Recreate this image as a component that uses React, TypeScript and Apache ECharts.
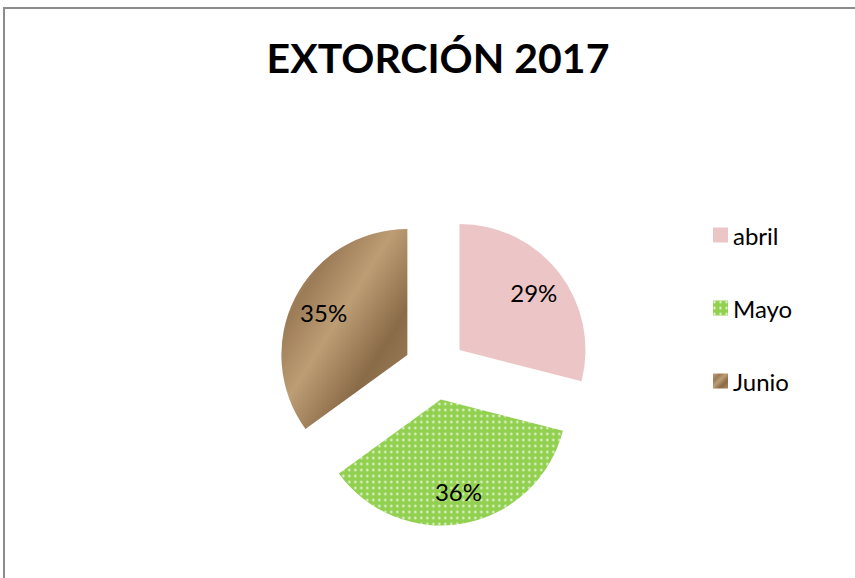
import React, { useEffect, useRef } from "react";
import * as echarts from "echarts";

const titleText = "EXTORCIÓN 2017";
const months = ["abril", "Mayo", "Junio"];
const shares = [29, 36, 35];
const colors = ["#ecc6c6", "#92d050", "#ad8c64"];

export default function App() {
  const ref = useRef<HTMLDivElement>(null);
  useEffect(() => {
    if (!ref.current) return;
    const chart = echarts.init(ref.current, null, { renderer: "svg" });
    const juniFill = new echarts.graphic.LinearGradient(0, 0, 1, 1, [
      { offset: 0, color: "#c2a27a" },
      { offset: 0.25, color: "#9c7c57" },
      { offset: 0.45, color: "#bd9d74" },
      { offset: 0.7, color: "#8a6b48" },
      { offset: 1, color: "#a68660" },
    ]);
    const fills: any[] = [colors[0], colors[1], juniFill];
    const center = [435, 369];
    chart.setOption({
      animation: false,
      backgroundColor: "#ffffff",
      title: {
        text: titleText,
        left: 433,
        textAlign: "center",
        top: 32,
        textStyle: { fontFamily: "Lato", fontWeight: "bold", fontSize: 41, color: "#000" },
      },
      legend: {
        orient: "vertical",
        left: 713,
        top: 223,
        padding: 0,
        icon: "rect",
        itemWidth: 15,
        itemHeight: 15,
        itemGap: 49,
        selectedMode: false,
        data: months,
        textStyle: { fontFamily: "Lato", fontSize: 24, color: "#000", lineHeight: 23 },
      },
      graphic: [
        {
          type: "rect",
          shape: { x: 4, y: 8, width: 900, height: 620 },
          style: { fill: "none", stroke: "#8c8c8c", lineWidth: 2 },
          silent: true,
        },
      ],
      series: [
        {
          type: "pie",
          center,
          radius: 126,
          startAngle: 90,
          clockwise: true,
          selectedMode: "multiple",
          selectedOffset: 31,
          label: { show: false },
          labelLine: { show: false },
          emphasis: { disabled: true },
          data: months.map((m, i) => ({
            name: m,
            value: shares[i],
            selected: true,
            itemStyle: {
              color: fills[i],
              decal:
                i === 1
                  ? {
                      symbol: "circle",
                      symbolSize: 0.85,
                      color: "rgba(255,255,255,0.8)",
                      dashArrayX: [3, 3],
                      dashArrayY: [3, 3],
                    }
                  : undefined,
            },
          })),
        },
        {
          type: "pie",
          center,
          radius: [56, 126],
          startAngle: 90,
          clockwise: true,
          selectedMode: "multiple",
          selectedOffset: 31,
          silent: true,
          legendHoverLink: false,
          itemStyle: { color: "transparent" },
          labelLine: { show: false },
          emphasis: { disabled: true },
          label: {
            show: true,
            position: "inner",
            formatter: "{d}%",
            fontFamily: "Lato",
            fontSize: 24,
            color: "#000",
          },
          data: months.map((m, i) => ({ name: m, value: shares[i], selected: true })),
        },
      ],
    });
    return () => chart.dispose();
  }, []);
  return (
    <div
      ref={ref}
      style={{ position: "fixed", left: 0, top: 0, width: 855, height: 578 }}
    />
  );
}
